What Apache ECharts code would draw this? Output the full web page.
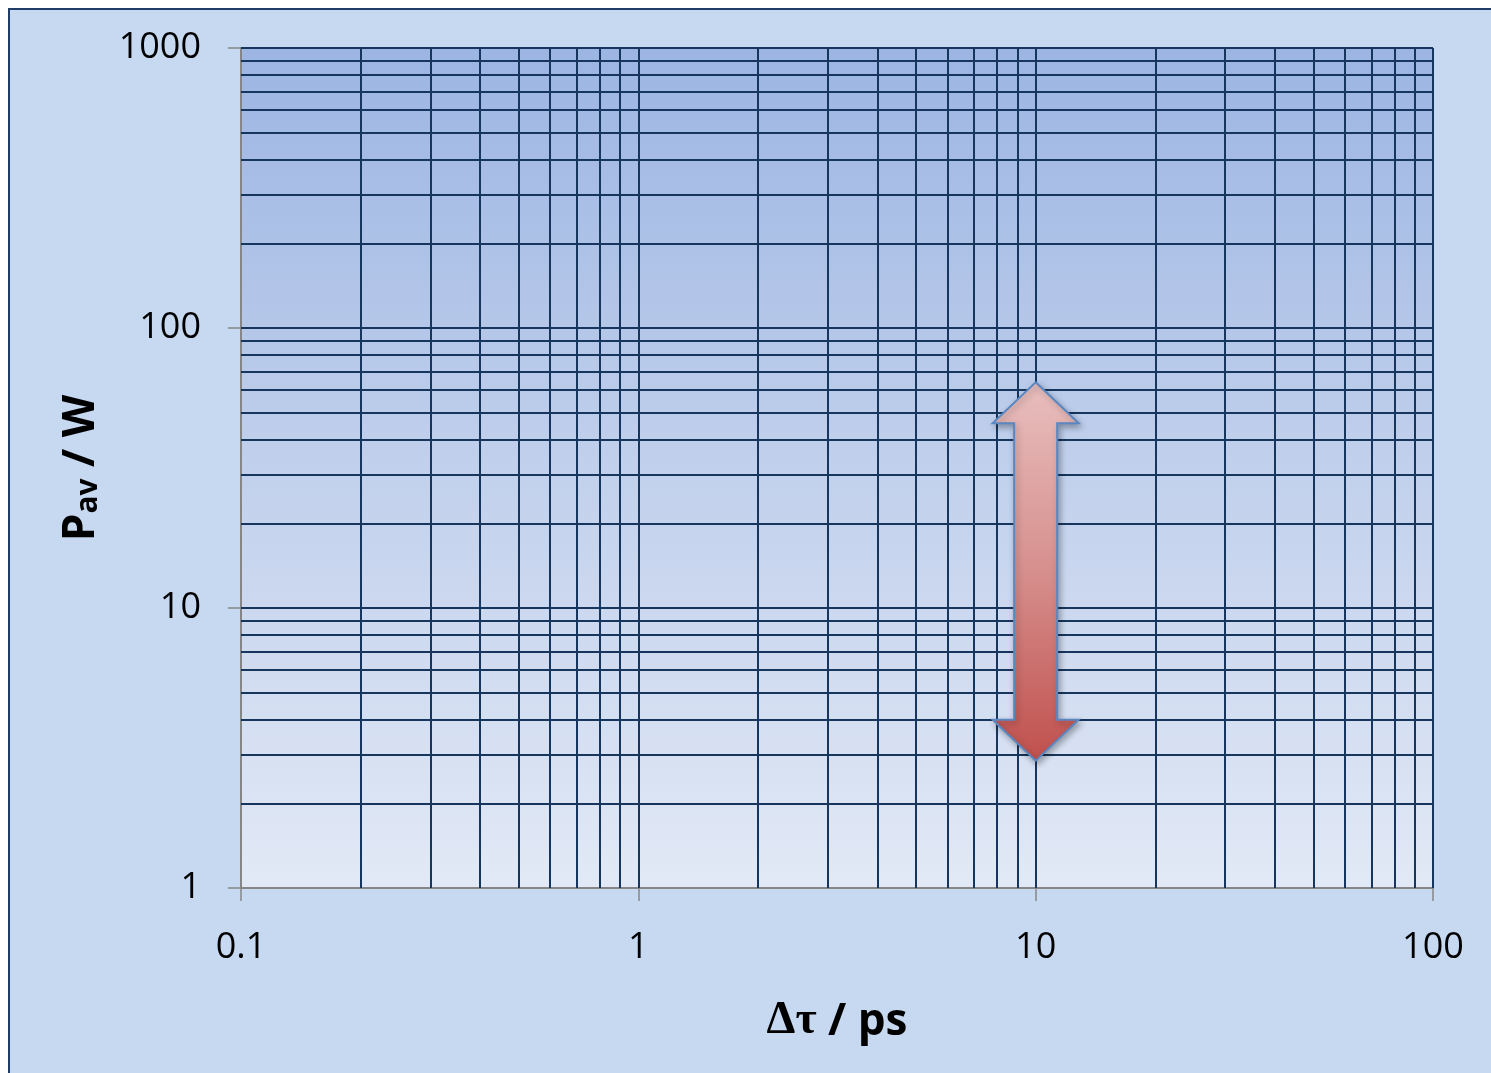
<!DOCTYPE html>
<html>
<head>
<meta charset="utf-8">
<style>
  html, body { margin: 0; padding: 0; background: #ffffff; }
  #chart { width: 1491px; height: 1073px; }
</style>
<script src="https://cdn.jsdelivr.net/npm/echarts@6/dist/echarts.min.js"></script>
</head>
<body>
<div id="chart"></div>
<script>
// Axis ranges (log scales)
const xRange = [0.1, 100];
const yRange = [1, 1000];

// Grid lines drawn at every 1..9 step of each decade
const xGridValues = [0.2, 0.3, 0.4, 0.5, 0.6, 0.7, 0.8, 0.9, 1,
  2, 3, 4, 5, 6, 7, 8, 9, 10,
  20, 30, 40, 50, 60, 70, 80, 90, 100];
const yGridValues = [2, 3, 4, 5, 6, 7, 8, 9, 10,
  20, 30, 40, 50, 60, 70, 80, 90, 100,
  200, 300, 400, 500, 600, 700, 800, 900, 1000];

// Double-headed arrow: position on the time axis and its power span
const arrowX = [10];
const arrowLow = [2.85];
const arrowHigh = [64];

const gridColor = '#17365d';
const axisGray = '#868686';

const chart = echarts.init(document.getElementById('chart'));

const gridLineData = xGridValues.map(v => ({ xAxis: v }))
  .concat(yGridValues.map(v => ({ yAxis: v })));

const option = {
  backgroundColor: '#ffffff',
  animation: false,
  graphic: [{
    type: 'rect',
    z: -100,
    silent: true,
    shape: { x: 9, y: 9, width: 1500, height: 1100 },
    style: { fill: '#c6d9f1', stroke: '#1f3d66', lineWidth: 2 }
  }],
  grid: {
    left: 241, right: 58, top: 48, bottom: 185,
    show: true,
    borderWidth: 0,
    backgroundColor: new echarts.graphic.LinearGradient(0, 0, 0, 1, [
      { offset: 0, color: '#9cb5e3' },
      { offset: 0.5, color: '#c1d0ec' },
      { offset: 1, color: '#e2e9f6' }
    ])
  },
  xAxis: {
    type: 'log',
    logBase: 10,
    min: xRange[0],
    max: xRange[1],
    name: '{g|Δτ}{b| / ps}',
    nameLocation: 'middle',
    nameGap: 106,
    nameTextStyle: {
      color: '#000000',
      rich: {
        g: { fontFamily: 'Liberation Serif', fontWeight: 'bold', fontSize: 46, color: '#000', verticalAlign: 'bottom', lineHeight: 50 },
        b: { fontFamily: 'Open Sans', fontWeight: 'bold', fontSize: 44, color: '#000', verticalAlign: 'bottom', lineHeight: 50 }
      }
    },
    axisLine: { show: true, lineStyle: { color: axisGray, width: 2 } },
    axisTick: { show: true, length: 13, lineStyle: { color: axisGray, width: 1.5 } },
    axisLabel: {
      fontFamily: 'Open Sans', fontSize: 36, color: '#000000', margin: 42,
      formatter: v => String(+v.toPrecision(6))
    },
    splitLine: { show: false },
    minorTick: { show: false }
  },
  yAxis: {
    type: 'log',
    logBase: 10,
    min: yRange[0],
    max: yRange[1],
    name: '{p|P}{s|av}{p| / W}',
    nameLocation: 'middle',
    nameRotate: 90,
    nameGap: 138,
    nameTextStyle: {
      color: '#000000',
      rich: {
        p: { fontFamily: 'Open Sans', fontWeight: 'bold', fontSize: 44, lineHeight: 44, verticalAlign: 'top', color: '#000' },
        s: { fontFamily: 'Open Sans', fontWeight: 'bold', fontSize: 30, lineHeight: 30, verticalAlign: 'bottom', padding: [26, 0, 0, 0], color: '#000' }
      }
    },
    axisLine: { show: true, lineStyle: { color: axisGray, width: 2 } },
    axisTick: { show: true, length: 13, lineStyle: { color: axisGray, width: 1.5 } },
    axisLabel: {
      fontFamily: 'Open Sans', fontSize: 36, color: '#000000', margin: 40,
      formatter: v => String(+v.toPrecision(6))
    },
    splitLine: { show: false },
    minorTick: { show: false }
  },
  series: [
    {
      name: 'grid',
      type: 'line',
      data: [],
      silent: true,
      z: 1,
      markLine: {
        silent: true,
        symbol: ['none', 'none'],
        label: { show: false },
        animation: false,
        lineStyle: { color: gridColor, width: 2, type: 'solid' },
        emphasis: { disabled: true },
        data: gridLineData
      }
    },
    {
      name: 'arrow',
      type: 'custom',
      coordinateSystem: 'cartesian2d',
      z: 10,
      clip: false,
      silent: true,
      data: arrowX.map((x, i) => [x, arrowLow[i], arrowHigh[i]]),
      encode: { x: 0, y: [1, 2] },
      renderItem: function (params, api) {
        const top = api.coord([api.value(0), api.value(2)]);
        const bot = api.coord([api.value(0), api.value(1)]);
        const cx = top[0];
        const headHalf = 43, shaftHalf = 21.5, headLen = 41;
        const t = top[1], b = bot[1];
        const pts = [
          [cx, t],
          [cx + headHalf, t + headLen],
          [cx + shaftHalf, t + headLen],
          [cx + shaftHalf, b - headLen],
          [cx + headHalf, b - headLen],
          [cx, b],
          [cx - headHalf, b - headLen],
          [cx - shaftHalf, b - headLen],
          [cx - shaftHalf, t + headLen],
          [cx - headHalf, t + headLen]
        ];
        return {
          type: 'polygon',
          shape: { points: pts },
          style: {
            fill: new echarts.graphic.LinearGradient(0, 0, 0, 1, [
              { offset: 0, color: '#e8bfbe' },
              { offset: 0.5, color: '#d68f8d' },
              { offset: 1, color: '#c0504d' }
            ]),
            stroke: '#5a87c2',
            lineWidth: 2,
            lineJoin: 'miter',
            shadowBlur: 6,
            shadowOffsetX: 2,
            shadowOffsetY: 3,
            shadowColor: 'rgba(0,0,0,0.3)'
          }
        };
      }
    }
  ]
};

chart.setOption(option);
</script>
</body>
</html>
